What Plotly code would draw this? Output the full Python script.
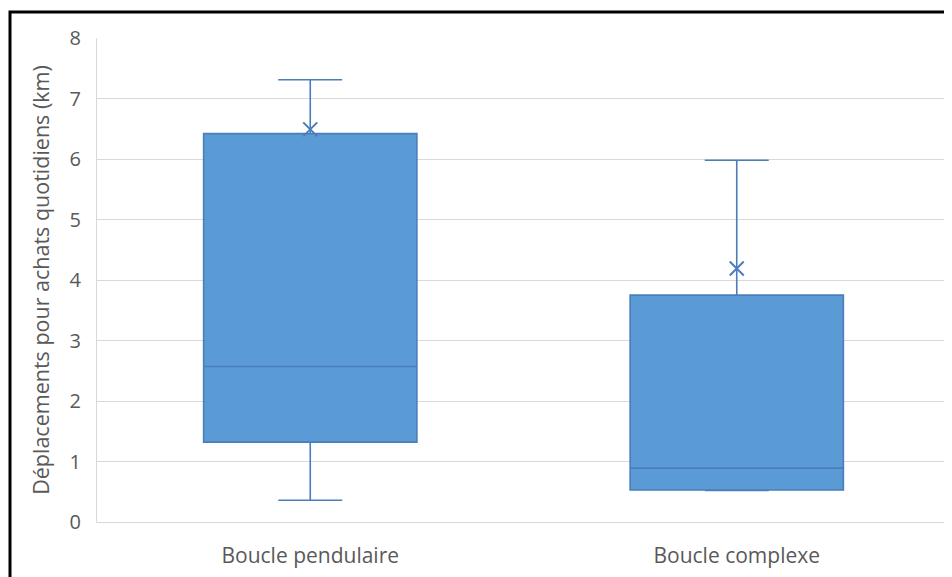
import plotly.graph_objects as go

categories = ["Boucle pendulaire", "Boucle complexe"]
lower_whisker = [0.36, 0.52]
q1_values = [1.32, 0.53]
median_values = [2.57, 0.89]
q3_values = [6.42, 3.75]
upper_whisker = [7.31, 5.98]
mean_values = [6.49, 4.19]
y_ticks = [0, 1, 2, 3, 4, 5, 6, 7, 8]

fill_color = "#5B9BD5"
line_color = "#4A7EBB"
text_color = "#595959"
font_family = "Open Sans"

fig = go.Figure()
fig.add_trace(go.Box(
    x=categories,
    q1=q1_values,
    median=median_values,
    q3=q3_values,
    lowerfence=lower_whisker,
    upperfence=upper_whisker,
    fillcolor=fill_color,
    line=dict(color=line_color, width=1.6),
    whiskerwidth=0.3,
    width=0.5,
    boxpoints=False,
    showlegend=False,
    hoverinfo="skip",
))
fig.add_trace(go.Scatter(
    x=categories,
    y=mean_values,
    mode="markers",
    marker=dict(symbol="x-thin-open", size=14, color=line_color,
                line=dict(color=line_color, width=2)),
    showlegend=False,
    hoverinfo="skip",
))

# page body has an 8px margin, so figure coords = screenshot coords - 8
off = 8
W, H = 952 - off, 577 - off
plot_left = 97 - off
plot_top = 38 - off
plot_right = W - (950 - off)
plot_bottom = H - (522 - off)
pw = W - plot_left - plot_right
ph = H - plot_top - plot_bottom

fig.update_layout(
    width=W, height=H,
    margin=dict(l=plot_left, r=plot_right, t=plot_top, b=plot_bottom, pad=0),
    paper_bgcolor="white",
    plot_bgcolor="white",
    font=dict(family=font_family, color=text_color, size=20),
    xaxis=dict(
        type="category",
        range=[-0.5, len(categories) - 0.5],
        showgrid=False,
        showline=True, linecolor="#D9D9D9", linewidth=1,
        ticks="", ticklabelstandoff=15,
        tickfont=dict(size=21, color=text_color),
        zeroline=False,
    ),
    yaxis=dict(
        range=[0, 8],
        tickvals=y_ticks,
        showgrid=True, gridcolor="#D9D9D9", gridwidth=1,
        showline=True, linecolor="#D9D9D9", linewidth=1,
        ticks="", ticklabelstandoff=11,
        tickfont=dict(size=20, color=text_color),
        zeroline=False,
        title=dict(text="Déplacements pour achats quotidiens (km)",
                   font=dict(size=21.5, color=text_color), standoff=14),
    ),
    shapes=[dict(
        type="rect", xref="paper", yref="paper",
        x0=(10 - off - plot_left) / pw, x1=(W + 20 - plot_left) / pw,
        y0=-(plot_bottom + 20) / ph, y1=1 + (plot_top - (12 - off)) / ph,
        line=dict(color="black", width=3), fillcolor="rgba(0,0,0,0)",
        layer="above",
    )],
)

fig.write_html("out.html")
